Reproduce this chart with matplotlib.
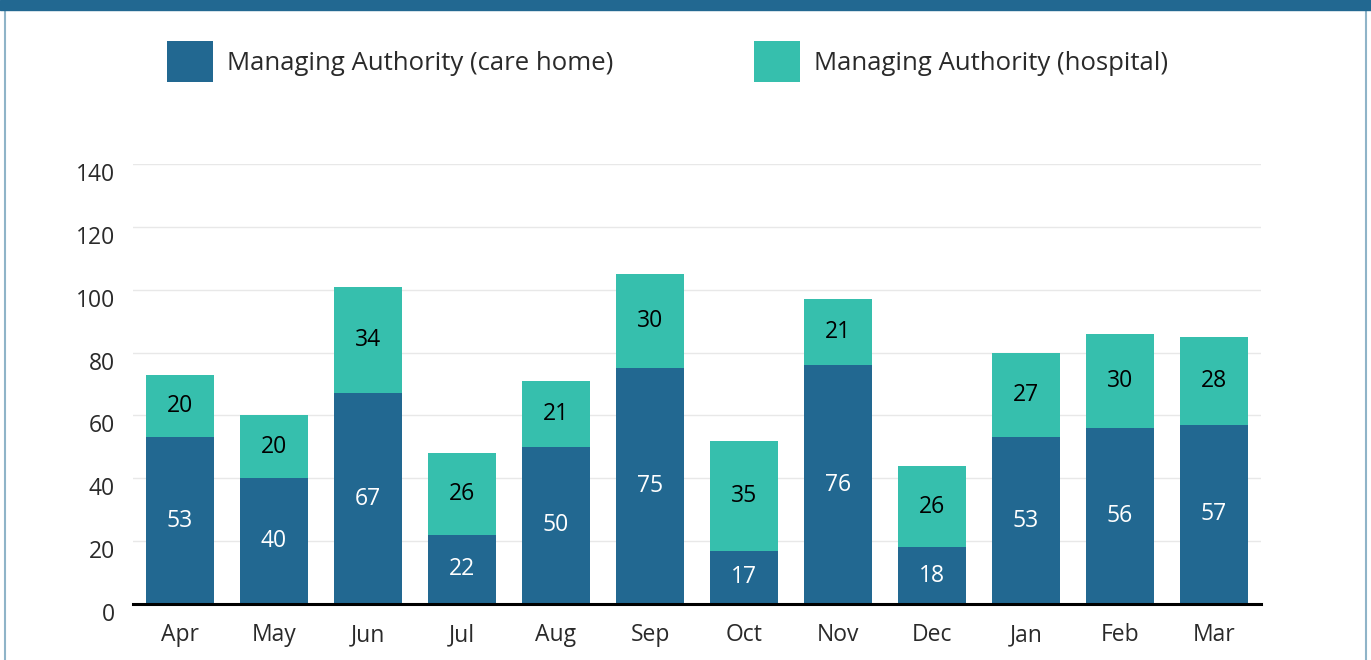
import matplotlib.pyplot as plt
import matplotlib.transforms as mtransforms
from matplotlib.patches import Rectangle
from matplotlib.lines import Line2D

months = ["Apr", "May", "Jun", "Jul", "Aug", "Sep", "Oct", "Nov", "Dec", "Jan", "Feb", "Mar"]
care_home = [53, 40, 67, 22, 50, 75, 17, 76, 18, 53, 56, 57]
hospital = [20, 20, 34, 26, 21, 30, 35, 21, 26, 27, 30, 28]

dark_blue = "#226891"
teal = "#36bfad"
text_color = "#2a2a2a"

plt.rcParams['font.family'] = ['Open Sans', 'DejaVu Sans']

fig = plt.figure(figsize=(13.71, 6.6), dpi=100)
ax = fig.add_axes([133 / 1371, 1 - 604 / 660, 1128 / 1371, 440 / 660])

x = range(len(months))
width = 0.72
ax.bar(x, care_home, width=width, color=dark_blue, label="Managing Authority (care home)", zorder=2)
ax.bar(x, hospital, width=width, bottom=care_home, color=teal, label="Managing Authority (hospital)", zorder=2)

for i in x:
    ax.text(i, care_home[i] / 2, str(care_home[i]), ha='center', va='center',
            color='white', fontsize=16.5, zorder=3)
    ax.text(i, care_home[i] + hospital[i] / 2, str(hospital[i]), ha='center', va='center',
            color='black', fontsize=16.5, zorder=3)

ax.set_ylim(0, 140)
ax.set_xlim(-0.5, len(months) - 0.5)
ax.set_yticks(range(0, 141, 20))
ax.set_xticks(list(x))
ax.set_xticklabels(months)
ax.tick_params(axis='both', length=0, labelsize=16.5, colors=text_color)
ax.tick_params(axis='x', pad=14)
ax.tick_params(axis='y', pad=13)
ax.grid(axis='y', color='#e8e8e8', linewidth=1, zorder=0)
for side in ['top', 'right', 'left']:
    ax.spines[side].set_visible(False)
ax.spines['bottom'].set_linewidth(2.2)
ax.spines['bottom'].set_color('black')
ax.spines['bottom'].set_zorder(4)

# y tick labels sit a little below their gridlines
offset = mtransforms.ScaledTranslation(0, -8 / 100, fig.dpi_scale_trans)
for lab in ax.get_yticklabels():
    lab.set_transform(lab.get_transform() + offset)

fig.legend(loc='upper left', bbox_to_anchor=(167 / 1371, 1 - 41 / 660), ncol=2,
           frameon=False, fontsize=18.5, handlelength=1.79, handleheight=2.1,
           handletextpad=0.55, columnspacing=5.45, borderpad=0, borderaxespad=0,
           labelcolor=text_color)

# frame decoration
fig.patches.append(Rectangle((0, 1 - 10 / 660), 1, 10 / 660, transform=fig.transFigure,
                             color=dark_blue, zorder=5))
fig.lines.append(Line2D([4.5 / 1371, 4.5 / 1371], [0, 1], transform=fig.transFigure,
                        color='#8fb4c8', linewidth=1.5))
fig.lines.append(Line2D([1365.5 / 1371, 1365.5 / 1371], [0, 1], transform=fig.transFigure,
                        color='#8fb4c8', linewidth=1.5))

fig.savefig("out.png", dpi=100)
